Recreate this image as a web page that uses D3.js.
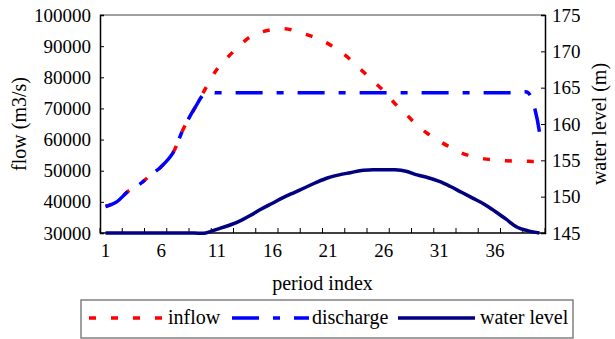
<!DOCTYPE html>
<html>
<head>
<meta charset="utf-8">
<script src="https://cdn.jsdelivr.net/npm/d3@7"></script>
<style>
  body { margin: 0; background: #fff; }
  svg text { font-family: 'Liberation Serif', 'DejaVu Serif', serif; fill: #000; }
</style>
</head>
<body>
<div id="chart"></div>
<script>
// period index 1..40
const periods = d3.range(1, 41);
const inflow = [38500, 40000, 43300, 45500, 48400, 51300, 55400, 63500, 70000, 76500,
                82500, 86500, 90000, 93000, 94500, 95300, 95600, 95000, 93800, 92500,
                90800, 88500, 85700, 82300, 79000, 75600, 71600, 68200, 64600, 61800,
                59500, 57500, 55700, 54500, 53800, 53500, 53200, 53100, 53000, 53000];
const discharge = [38500, 40000, 43300, 45500, 48400, 51300, 55400, 63500, 70000, 75000,
                   75000, 75000, 75000, 75000, 75000, 75000, 75000, 75000, 75000, 75000,
                   75000, 75000, 75000, 75000, 75000, 75000, 75000, 75000, 75000, 75000,
                   75000, 75000, 75000, 75000, 75000, 75000, 75000, 75000, 75000, 62500];
const waterLevel = [145, 145, 145, 145, 145, 145, 145, 145, 145, 145,
                    145.5, 146.0, 146.6, 147.4, 148.3, 149.1, 149.9, 150.6, 151.3, 152.0,
                    152.6, 153.0, 153.3, 153.6, 153.7, 153.7, 153.7, 153.5, 153.0, 152.6,
                    152.1, 151.4, 150.6, 149.8, 149.0, 148.0, 146.9, 145.8, 145.3, 145.0];
const xTickLabels = [1, 6, 11, 16, 21, 26, 31, 36];
const flowTicks = [30000, 40000, 50000, 60000, 70000, 80000, 90000, 100000];
const levelTicks = [145, 150, 155, 160, 165, 170, 175];

const W = 615, H = 339;
const plotL = 100, plotR = 545, plotT = 15, plotB = 233;
const serif = "'Liberation Serif', 'DejaVu Serif', serif";

const svg = d3.select("#chart").append("svg")
    .attr("width", W)
    .attr("height", H)
    .attr("font-family", serif);

const x = d3.scaleBand().domain(periods).range([plotL, plotR]);
const yFlow = d3.scaleLinear().domain([30000, 100000]).range([plotB, plotT]);
const yLevel = d3.scaleLinear().domain([145, 175]).range([plotB, plotT]);
const cx = d => x(d) + x.bandwidth() / 2;

// top border of plot area
svg.append("line")
    .attr("x1", plotL).attr("x2", plotR)
    .attr("y1", plotT).attr("y2", plotT)
    .attr("stroke", "#808080").attr("stroke-width", 1.5);

// left axis
const gl = svg.append("g").attr("transform", `translate(${plotL},0)`)
    .call(d3.axisLeft(yFlow).tickValues(flowTicks).tickSize(-4).tickPadding(9).tickFormat(d3.format("d")));
// right axis
const gr = svg.append("g").attr("transform", `translate(${plotR},0)`)
    .call(d3.axisRight(yLevel).tickValues(levelTicks).tickSize(-4).tickPadding(7));
// bottom axis: ticks every 2 periods on band edges
const gb = svg.append("g").attr("transform", `translate(0,${plotB})`);
gb.append("line").attr("x1", plotL).attr("x2", plotR).attr("stroke", "#000").attr("stroke-width", 1.5);
gb.selectAll("line.tk")
    .data(d3.range(0, 41, 2))
    .join("line")
    .attr("class", "tk")
    .attr("x1", i => plotL + i * x.bandwidth())
    .attr("x2", i => plotL + i * x.bandwidth())
    .attr("y1", 0).attr("y2", -5)
    .attr("stroke", "#000");
gb.selectAll("text")
    .data(xTickLabels)
    .join("text")
    .attr("x", d => cx(d))
    .attr("y", 24)
    .attr("text-anchor", "middle")
    .style("font-size", "19px")
    .text(d => d);

[gl, gr].forEach(g => {
    g.attr("font-family", serif);
    g.select(".domain").attr("stroke", "#000").attr("stroke-width", 1.5);
    g.selectAll(".tick line").attr("stroke", "#000");
    g.selectAll(".tick text").style("font-size", "19px");
});

// lines
const line = ys => d3.line()
    .x((d, i) => cx(periods[i]))
    .y(d => ys(d))
    .curve(d3.curveCatmullRom.alpha(0.5));

svg.append("path")
    .datum(waterLevel)
    .attr("d", line(yLevel))
    .attr("fill", "none")
    .attr("stroke", "#000080")
    .attr("stroke-width", 3.5);

svg.append("path")
    .datum(inflow)
    .attr("d", line(yFlow))
    .attr("fill", "none")
    .attr("stroke", "#ff0000")
    .attr("stroke-width", 3.5)
    .attr("stroke-dasharray", "7,15");

svg.append("path")
    .datum(discharge)
    .attr("d", line(yFlow))
    .attr("fill", "none")
    .attr("stroke", "#0000ff")
    .attr("stroke-width", 3.5)
    .attr("stroke-dasharray", "27,14,7,14");

// axis titles
svg.append("text")
    .attr("transform", `translate(26,${(plotT + plotB) / 2}) rotate(-90)`)
    .attr("text-anchor", "middle")
    .style("font-size", "20px")
    .text("flow (m3/s)");

svg.append("text")
    .attr("transform", `translate(606,${(plotT + plotB) / 2}) rotate(-90)`)
    .attr("text-anchor", "middle")
    .style("font-size", "20px")
    .text("water level (m)");

svg.append("text")
    .attr("x", (plotL + plotR) / 2)
    .attr("y", 290)
    .attr("text-anchor", "middle")
    .style("font-size", "20px")
    .text("period index");

// legend
const lg = svg.append("g");
lg.append("rect")
    .attr("x", 81).attr("y", 300)
    .attr("width", 492).attr("height", 38)
    .attr("fill", "#fff")
    .attr("stroke", "#808080").attr("stroke-width", 1.5);

const legendItems = [
    {name: "inflow", color: "#ff0000", dash: "7,15", x1: 89, x2: 163, tx: 168},
    {name: "discharge", color: "#0000ff", dash: "27,14,7,14", x1: 232, x2: 309, tx: 312},
    {name: "water level", color: "#000080", dash: null, x1: 398, x2: 475, tx: 480}
];
legendItems.forEach(d => {
    lg.append("line")
        .attr("x1", d.x1).attr("x2", d.x2)
        .attr("y1", 318).attr("y2", 318)
        .attr("stroke", d.color)
        .attr("stroke-width", 3.5)
        .attr("stroke-dasharray", d.dash);
    lg.append("text")
        .attr("x", d.tx).attr("y", 324)
        .style("font-size", "20px")
        .text(d.name);
});
</script>
</body>
</html>
